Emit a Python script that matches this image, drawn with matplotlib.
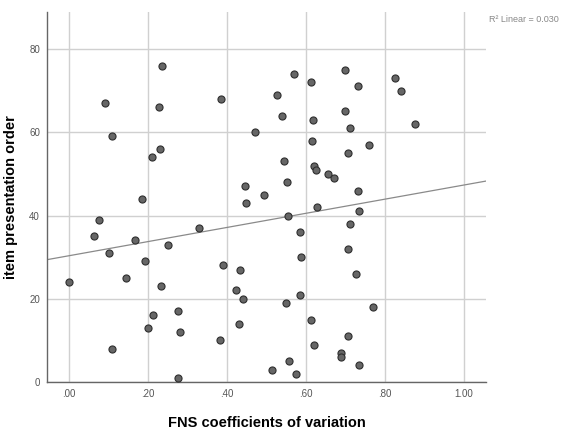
import matplotlib
matplotlib.use("Agg")
import matplotlib.pyplot as plt
import numpy as np

plt.rcParams['font.family'] = ['Liberation Sans', 'DejaVu Sans']

# FNS coefficients of variation (x) and item presentation order (y)
fns_cv = [0.000, 0.063, 0.075, 0.091, 0.101, 0.108, 0.108, 0.145, 0.166, 0.185,
          0.191, 0.199, 0.210, 0.212, 0.227, 0.231, 0.233, 0.234, 0.250, 0.275,
          0.275, 0.281, 0.330, 0.386, 0.383, 0.390, 0.422, 0.430, 0.433, 0.440,
          0.446, 0.448, 0.471, 0.494, 0.514, 0.526, 0.539, 0.544, 0.551, 0.550,
          0.555, 0.558, 0.569, 0.576, 0.584, 0.586, 0.587, 0.613, 0.612, 0.616,
          0.620, 0.618, 0.621, 0.626, 0.628, 0.657, 0.671, 0.689, 0.689, 0.699,
          0.700, 0.708, 0.708, 0.708, 0.712, 0.713, 0.728, 0.732, 0.733, 0.734,
          0.734, 0.760, 0.769, 0.826, 0.841, 0.877]
order = [24, 35, 39, 67, 31, 59, 8, 25, 34, 44,
         29, 13, 54, 16, 66, 56, 23, 76, 33, 17,
         1, 12, 37, 68, 10, 28, 22, 14, 27, 20,
         47, 43, 60, 45, 3, 69, 64, 53, 48, 19,
         40, 5, 74, 2, 21, 36, 30, 72, 15, 58,
         52, 63, 9, 51, 42, 50, 49, 7, 6, 75,
         65, 55, 32, 11, 61, 38, 26, 71, 46, 41,
         4, 57, 18, 73, 70, 62]

x_ticks = [0.0, 0.2, 0.4, 0.6, 0.8, 1.0]
x_labels = ['.00', '.20', '.40', '.60', '.80', '1.00']
y_ticks = [0, 20, 40, 60, 80]

fig = plt.figure(figsize=(5.71, 4.34), dpi=100)
ax = fig.add_axes([0.0823, 0.1198, 0.7688, 0.8526])

ax.set_xlim(-0.0565, 1.0567)
ax.set_ylim(0, 88.9)

ax.grid(True, color='#d0d0d0', linewidth=1.0)
ax.set_axisbelow(True)

# linear fit
slope, intercept = np.polyfit(fns_cv, order, 1)
xs = np.array(ax.get_xlim())
ax.plot(xs, intercept + slope * xs, color='#8a8a8a', linewidth=0.9, zorder=2)

ax.scatter(fns_cv, order, s=26, facecolor='#666666', edgecolor='#2e2e2e',
           linewidth=0.8, zorder=3)

ax.set_xticks(x_ticks)
ax.set_xticklabels(x_labels)
ax.set_yticks(y_ticks)
ax.tick_params(length=0, labelsize=7, labelcolor='#555555', pad=5)

for s in ['top', 'right']:
    ax.spines[s].set_visible(False)
for s in ['left', 'bottom']:
    ax.spines[s].set_color('#666666')
    ax.spines[s].set_linewidth(1.0)

ax.set_xlabel('FNS coefficients of variation', fontsize=10.5, fontweight='bold')
ax.set_ylabel('item presentation order', fontsize=10.5, fontweight='bold')
ax.xaxis.set_label_coords(0.5, -0.092)
ax.yaxis.set_label_coords(-0.066, 0.5)

fig.text(0.857, 0.954, 'R\u00b2 Linear = 0.030', fontsize=6.5, color='#888888',
         ha='left', va='center')

fig.savefig('out.png', dpi=100)
